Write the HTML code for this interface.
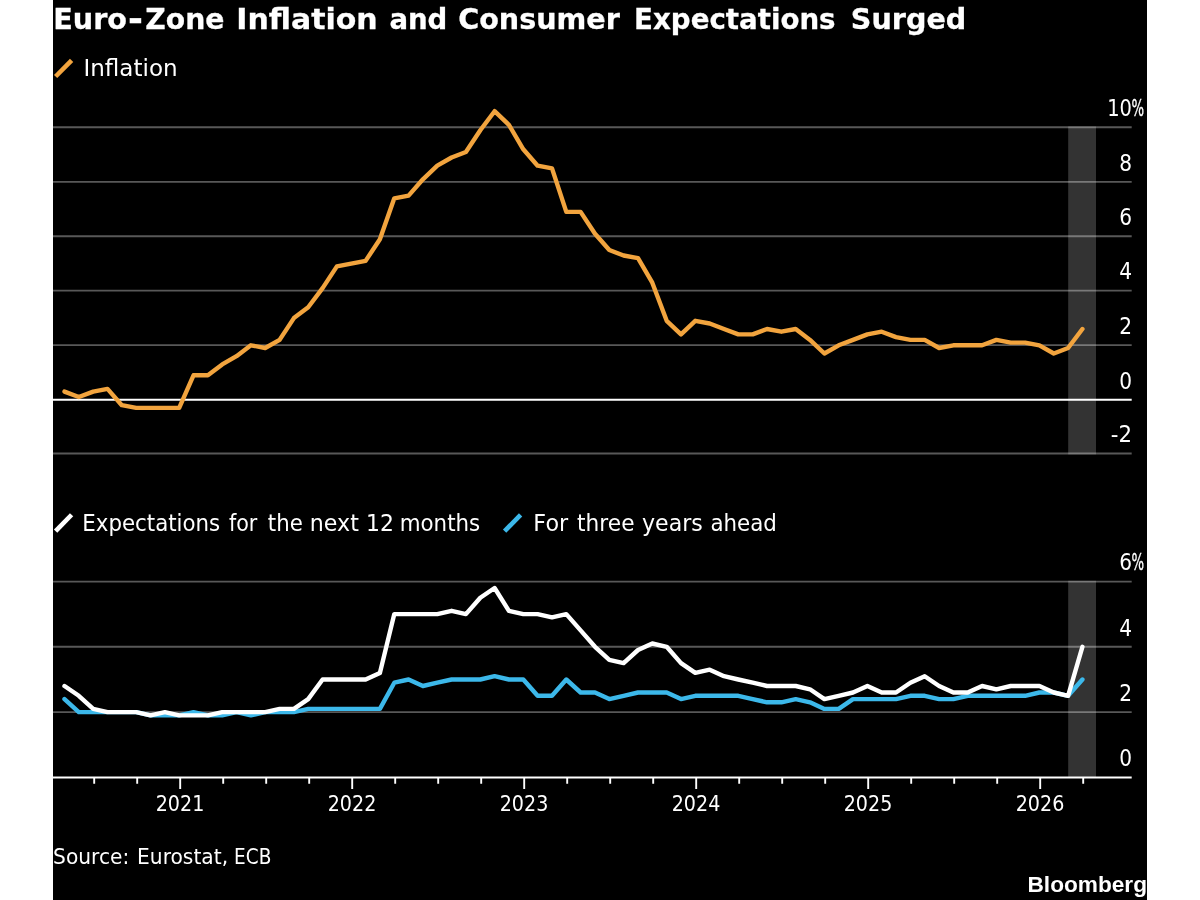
<!DOCTYPE html>
<html lang="en"><head><meta charset="utf-8"><title>Euro-Zone Inflation and Consumer Expectations Surged</title>
<style>
html,body{margin:0;padding:0;background:#fff;}
body{width:1200px;height:900px;overflow:hidden;}
svg{display:block;}
text{font-family:'DejaVu Sans','Liberation Sans',sans-serif;fill:#fff;}
.b{font-family:'DejaVu Sans','Liberation Sans',sans-serif;font-weight:bold;}
</style></head><body>
<svg width="1200" height="900" viewBox="0 0 1200 900">
<rect x="0" y="0" width="1200" height="900" fill="#fff"/>
<rect x="53" y="0" width="1094" height="900" fill="#000"/>

<line x1="53" x2="1131.7" y1="127.30" y2="127.30" stroke="#585858" stroke-width="1.9"/>
<line x1="53" x2="1131.7" y1="181.90" y2="181.90" stroke="#585858" stroke-width="1.9"/>
<line x1="53" x2="1131.7" y1="236.25" y2="236.25" stroke="#585858" stroke-width="1.9"/>
<line x1="53" x2="1131.7" y1="290.60" y2="290.60" stroke="#585858" stroke-width="1.9"/>
<line x1="53" x2="1131.7" y1="345.10" y2="345.10" stroke="#585858" stroke-width="1.9"/>
<line x1="53" x2="1131.7" y1="453.50" y2="453.50" stroke="#585858" stroke-width="1.9"/>
<line x1="53" x2="1131.7" y1="581.60" y2="581.60" stroke="#585858" stroke-width="1.9"/>
<line x1="53" x2="1131.7" y1="646.80" y2="646.80" stroke="#585858" stroke-width="1.9"/>
<line x1="53" x2="1131.7" y1="712.10" y2="712.10" stroke="#585858" stroke-width="1.9"/>
<rect x="1068.2" y="126.4" width="27.8" height="328.0" fill="#fff" fill-opacity="0.2"/>
<rect x="1068.2" y="580.7" width="27.8" height="196.8" fill="#fff" fill-opacity="0.2"/>
<line x1="53" x2="1131.7" y1="399.80" y2="399.80" stroke="#fff" stroke-width="2"/>
<line x1="53" x2="1131.7" y1="777.5" y2="777.5" stroke="#fff" stroke-width="2"/>
<path d="M94.2,777.5 v6.3 M137.2,777.5 v6.3 M180.2,777.5 v11.4 M223.2,777.5 v6.3 M266.2,777.5 v6.3 M309.2,777.5 v6.3 M352.2,777.5 v11.4 M395.2,777.5 v6.3 M438.2,777.5 v6.3 M481.2,777.5 v6.3 M524.2,777.5 v11.4 M567.2,777.5 v6.3 M610.2,777.5 v6.3 M653.2,777.5 v6.3 M696.2,777.5 v11.4 M739.2,777.5 v6.3 M782.2,777.5 v6.3 M825.2,777.5 v6.3 M868.2,777.5 v11.4 M911.2,777.5 v6.3 M954.2,777.5 v6.3 M997.2,777.5 v6.3 M1040.2,777.5 v11.4 M1083.2,777.5 v6.3" stroke="#fff" stroke-width="1.9" fill="none"/>
<path d="M64.5,391.6 L78.8,397.0 L93.2,391.6 L107.5,388.9 L121.8,405.2 L136.2,407.9 L150.5,407.9 L164.9,407.9 L179.2,407.9 L193.5,375.3 L207.9,375.3 L222.2,364.4 L236.5,356.2 L250.9,345.3 L265.2,348.0 L279.6,339.9 L293.9,318.1 L308.2,307.2 L322.6,288.1 L336.9,266.4 L351.2,263.6 L365.6,260.9 L379.9,239.2 L394.3,198.3 L408.6,195.6 L422.9,179.3 L437.3,165.7 L451.6,157.5 L465.9,152.0 L480.3,130.3 L494.6,111.2 L508.9,124.8 L523.3,149.3 L537.6,165.7 L552.0,168.4 L566.3,211.9 L580.6,211.9 L595.0,233.7 L609.3,250.0 L623.6,255.5 L638.0,258.2 L652.3,282.7 L666.7,320.8 L681.0,334.4 L695.3,320.8 L709.7,323.5 L724.0,329.0 L738.3,334.4 L752.7,334.4 L767.0,329.0 L781.4,331.7 L795.7,329.0 L810.0,339.9 L824.4,353.5 L838.7,345.3 L853.0,339.9 L867.4,334.4 L881.7,331.7 L896.0,337.1 L910.4,339.9 L924.7,339.9 L939.1,348.0 L953.4,345.3 L967.7,345.3 L982.1,345.3 L996.4,339.9 L1010.7,342.6 L1025.1,342.6 L1039.4,345.3 L1053.8,353.5 L1068.1,348.0 L1082.4,329.0" fill="none" stroke="#F2A43E" stroke-width="4.4" stroke-linejoin="round" stroke-linecap="round"/>
<path d="M64.5,699.1 L78.8,712.1 L93.2,712.1 L107.5,712.1 L121.8,712.1 L136.2,712.1 L150.5,715.4 L164.9,715.4 L179.2,715.4 L193.5,712.1 L207.9,715.4 L222.2,715.4 L236.5,712.1 L250.9,715.4 L265.2,712.1 L279.6,712.1 L293.9,712.1 L308.2,708.9 L322.6,708.9 L336.9,708.9 L351.2,708.9 L365.6,708.9 L379.9,708.9 L394.3,682.7 L408.6,679.5 L422.9,686.0 L437.3,682.7 L451.6,679.5 L465.9,679.5 L480.3,679.5 L494.6,676.2 L508.9,679.5 L523.3,679.5 L537.6,695.8 L552.0,695.8 L566.3,679.5 L580.6,692.5 L595.0,692.5 L609.3,699.1 L623.6,695.8 L638.0,692.5 L652.3,692.5 L666.7,692.5 L681.0,699.1 L695.3,695.8 L709.7,695.8 L724.0,695.8 L738.3,695.8 L752.7,699.1 L767.0,702.3 L781.4,702.3 L795.7,699.1 L810.0,702.3 L824.4,708.9 L838.7,708.9 L853.0,699.1 L867.4,699.1 L881.7,699.1 L896.0,699.1 L910.4,695.8 L924.7,695.8 L939.1,699.1 L953.4,699.1 L967.7,695.8 L982.1,695.8 L996.4,695.8 L1010.7,695.8 L1025.1,695.8 L1039.4,692.5 L1053.8,692.5 L1068.1,695.8 L1082.4,679.5" fill="none" stroke="#3CB8EA" stroke-width="4.4" stroke-linejoin="round" stroke-linecap="round"/>
<path d="M64.5,686.0 L78.8,695.8 L93.2,708.9 L107.5,712.1 L121.8,712.1 L136.2,712.1 L150.5,715.4 L164.9,712.1 L179.2,715.4 L193.5,715.4 L207.9,715.4 L222.2,712.1 L236.5,712.1 L250.9,712.1 L265.2,712.1 L279.6,708.9 L293.9,708.9 L308.2,699.1 L322.6,679.5 L336.9,679.5 L351.2,679.5 L365.6,679.5 L379.9,672.9 L394.3,614.1 L408.6,614.1 L422.9,614.1 L437.3,614.1 L451.6,610.8 L465.9,614.1 L480.3,597.8 L494.6,588.0 L508.9,610.8 L523.3,614.1 L537.6,614.1 L552.0,617.4 L566.3,614.1 L580.6,630.4 L595.0,646.8 L609.3,659.9 L623.6,663.1 L638.0,650.0 L652.3,643.5 L666.7,646.8 L681.0,663.1 L695.3,672.9 L709.7,669.7 L724.0,676.2 L738.3,679.5 L752.7,682.7 L767.0,686.0 L781.4,686.0 L795.7,686.0 L810.0,689.3 L824.4,699.1 L838.7,695.8 L853.0,692.5 L867.4,686.0 L881.7,692.5 L896.0,692.5 L910.4,682.7 L924.7,676.2 L939.1,686.0 L953.4,692.5 L967.7,692.5 L982.1,686.0 L996.4,689.3 L1010.7,686.0 L1025.1,686.0 L1039.4,686.0 L1053.8,692.5 L1068.1,695.8 L1082.4,646.8" fill="none" stroke="#fff" stroke-width="4.4" stroke-linejoin="round" stroke-linecap="round"/>
<text class="b" stroke="#fff" stroke-width="0.3"><tspan x="53.23" y="29.0" font-size="28" textLength="73.76" lengthAdjust="spacingAndGlyphs">Euro</tspan><tspan x="128.09" y="30.1" font-size="33" textLength="14.98" lengthAdjust="spacingAndGlyphs">-</tspan><tspan x="145.33" y="29.0" font-size="28" textLength="79.13" lengthAdjust="spacingAndGlyphs">Zone</tspan> <tspan x="236.31" y="29.0" font-size="28" textLength="141.30" lengthAdjust="spacingAndGlyphs">Inflation</tspan> <tspan x="389.38" y="29.0" font-size="28" textLength="57.95" lengthAdjust="spacingAndGlyphs">and</tspan> <tspan x="458.20" y="29.0" font-size="28" textLength="161.62" lengthAdjust="spacingAndGlyphs">Consumer</tspan> <tspan x="634.10" y="29.0" font-size="28" textLength="201.49" lengthAdjust="spacingAndGlyphs">Expectations</tspan> <tspan x="850.88" y="29.0" font-size="28" textLength="115.44" lengthAdjust="spacingAndGlyphs">Surged</tspan></text>
<text><tspan x="83.44" y="76.4" font-size="22.2" textLength="94.24" lengthAdjust="spacingAndGlyphs">Inflation</tspan></text>
<text><tspan x="82.32" y="530.6" font-size="22.2" textLength="137.93" lengthAdjust="spacingAndGlyphs">Expectations</tspan> <tspan x="228.91" y="530.6" font-size="22.2" textLength="28.41" lengthAdjust="spacingAndGlyphs">for</tspan> <tspan x="267.81" y="530.6" font-size="22.2" textLength="34.98" lengthAdjust="spacingAndGlyphs">the</tspan> <tspan x="309.79" y="530.6" font-size="22.2" textLength="49.08" lengthAdjust="spacingAndGlyphs">next</tspan> <tspan x="366.02" y="530.6" font-size="22.2" textLength="27.91" lengthAdjust="spacingAndGlyphs">12</tspan> <tspan x="399.70" y="530.6" font-size="22.2" textLength="80.57" lengthAdjust="spacingAndGlyphs">months</tspan></text>
<text><tspan x="533.39" y="530.6" font-size="22.2" textLength="34.77" lengthAdjust="spacingAndGlyphs">For</tspan> <tspan x="577.11" y="530.6" font-size="22.2" textLength="57.41" lengthAdjust="spacingAndGlyphs">three</tspan> <tspan x="641.98" y="530.6" font-size="22.2" textLength="60.82" lengthAdjust="spacingAndGlyphs">years</tspan> <tspan x="710.44" y="530.6" font-size="22.2" textLength="66.49" lengthAdjust="spacingAndGlyphs">ahead</tspan></text>
<text><tspan x="53.10" y="863.5" font-size="21.5" textLength="76.19" lengthAdjust="spacingAndGlyphs">Source:</tspan> <tspan x="137.06" y="863.5" font-size="21.5" textLength="91.04" lengthAdjust="spacingAndGlyphs">Eurostat,</tspan> <tspan x="234.12" y="863.5" font-size="21.5" textLength="37.25" lengthAdjust="spacingAndGlyphs">ECB</tspan></text>
<line x1="55.6" y1="76.5" x2="71.6" y2="60.4" stroke="#F2A43E" stroke-width="4.6"/>
<line x1="55.6" y1="531.1" x2="71.6" y2="514.75" stroke="#fff" stroke-width="4.6"/>
<line x1="504.6" y1="531.1" x2="520.6" y2="514.9" stroke="#3CB8EA" stroke-width="4.6"/>
<text><tspan x="1132" y="116.1" font-size="22.4" text-anchor="end" textLength="24.8" lengthAdjust="spacingAndGlyphs">10</tspan><tspan x="1131.6" y="116.1" font-size="23.5" text-anchor="start" stroke="#fff" stroke-width="0.35" textLength="12.6" lengthAdjust="spacingAndGlyphs">%</tspan></text>
<text><tspan x="1132" y="170.7" font-size="22.4" text-anchor="end" textLength="12.8" lengthAdjust="spacingAndGlyphs">8</tspan></text>
<text><tspan x="1132" y="225.1" font-size="22.4" text-anchor="end" textLength="12.8" lengthAdjust="spacingAndGlyphs">6</tspan></text>
<text><tspan x="1132" y="279.4" font-size="22.4" text-anchor="end" textLength="12.8" lengthAdjust="spacingAndGlyphs">4</tspan></text>
<text><tspan x="1132" y="333.9" font-size="22.4" text-anchor="end" textLength="12.8" lengthAdjust="spacingAndGlyphs">2</tspan></text>
<text><tspan x="1132" y="388.6" font-size="22.4" text-anchor="end" textLength="12.8" lengthAdjust="spacingAndGlyphs">0</tspan></text>
<text><tspan x="1132" y="442.3" font-size="22.4" text-anchor="end" textLength="21.2" lengthAdjust="spacingAndGlyphs">-2</tspan></text>
<text><tspan x="1132" y="570.4" font-size="22.4" text-anchor="end" textLength="12.8" lengthAdjust="spacingAndGlyphs">6</tspan><tspan x="1131.6" y="570.4" font-size="23.5" text-anchor="start" stroke="#fff" stroke-width="0.35" textLength="12.6" lengthAdjust="spacingAndGlyphs">%</tspan></text>
<text><tspan x="1132" y="635.6" font-size="22.4" text-anchor="end" textLength="12.8" lengthAdjust="spacingAndGlyphs">4</tspan></text>
<text><tspan x="1132" y="700.9" font-size="22.4" text-anchor="end" textLength="12.8" lengthAdjust="spacingAndGlyphs">2</tspan></text>
<text><tspan x="1132" y="766.3" font-size="22.4" text-anchor="end" textLength="12.8" lengthAdjust="spacingAndGlyphs">0</tspan></text>
<text x="180" y="810.8" font-size="22" text-anchor="middle" textLength="48.6" lengthAdjust="spacingAndGlyphs">2021</text>
<text x="352" y="810.8" font-size="22" text-anchor="middle" textLength="48.6" lengthAdjust="spacingAndGlyphs">2022</text>
<text x="524" y="810.8" font-size="22" text-anchor="middle" textLength="48.6" lengthAdjust="spacingAndGlyphs">2023</text>
<text x="696" y="810.8" font-size="22" text-anchor="middle" textLength="48.6" lengthAdjust="spacingAndGlyphs">2024</text>
<text x="868" y="810.8" font-size="22" text-anchor="middle" textLength="48.6" lengthAdjust="spacingAndGlyphs">2025</text>
<text x="1040" y="810.8" font-size="22" text-anchor="middle" textLength="48.6" lengthAdjust="spacingAndGlyphs">2026</text>
<text x="1027.5" y="891.8" font-size="22" font-weight="bold" style="font-family:'Liberation Sans',sans-serif" textLength="119.5" lengthAdjust="spacingAndGlyphs">Bloomberg</text>
</svg></body></html>
